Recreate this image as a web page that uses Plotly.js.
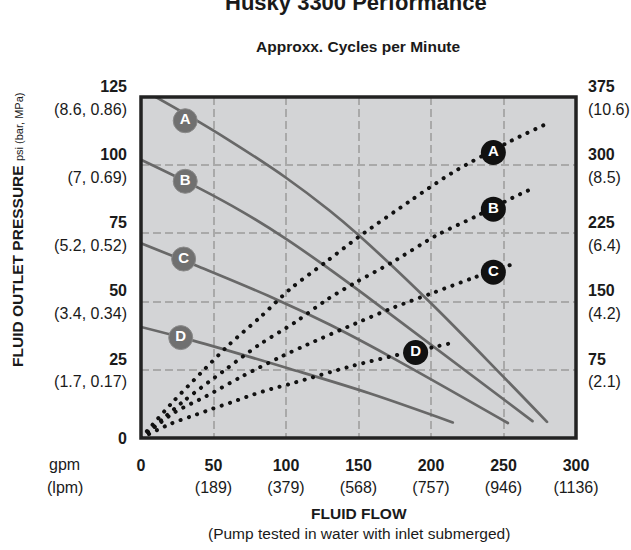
<!DOCTYPE html>
<html>
<head>
<meta charset="utf-8">
<script src="https://cdn.plot.ly/plotly-3.0.1.min.js"></script>
<style>
  html, body { margin: 0; padding: 0; background: #fff; }
  #chart { width: 631px; height: 550px; }
  /* round caps turn the short dashes of the air curves into dots */
  .scatterlayer .js-line { stroke-linecap: round !important; }
</style>
</head>
<body>
<div id="chart"></div>
<script>
// Fluid outlet pressure curves (psi) against fluid flow (gpm)
const pressFlowA = [0, 30, 60, 100, 130, 150, 200, 250, 280];
const pressA     = [128, 119, 109.4, 95.4, 83.4, 74.4, 49.4, 22.4, 5.9];
const pressFlowB = [0, 40, 70, 100, 130, 160, 270];
const pressB     = [102, 91.6, 82.9, 73, 61.9, 50.2, 6.2];
const pressFlowC = [0, 40, 90, 130, 170, 253];
const pressC     = [71.4, 62.8, 51.6, 41.6, 30.4, 5.5];
const pressFlowD = [0, 36, 103, 158, 215];
const pressD     = [40.7, 35.7, 25.3, 16.3, 5.7];

// Air consumption curves (right-hand scale) against fluid flow (gpm)
const airFlowA = [0, 21, 41, 61, 83, 103, 127, 150, 185, 215, 253, 279];
const airA     = [0, 38, 71, 103, 134, 164, 193, 221, 260, 292, 325, 345];
const airFlowB = [0, 29, 58, 81, 106, 129, 148, 173, 204, 230, 256, 268];
const airB     = [0, 40, 75, 102, 127, 153, 171, 193, 223, 243, 264, 273];
const airFlowC = [0, 23, 45, 70, 96, 115, 148, 175, 202, 229, 256];
const airC     = [0, 28, 46, 68, 89, 103, 126, 144, 160, 176, 191];
const airFlowD = [0, 21, 35, 49, 62, 76, 90, 104, 145, 180, 202, 216];
const airD     = [0, 16, 24, 32, 39, 47, 54, 60, 79, 92.5, 100, 105];

// Curve badges
const curveLetters   = ['A', 'B', 'C', 'D'];
const pressBadgeFlow = [30.5, 30.5, 29.4, 27.4];
const pressBadgePsi  = [116.3, 94.1, 65.6, 36.8];
const airBadgeFlow   = [243, 243, 243, 189.4];
const airBadgeValue  = [314, 251.6, 182.4, 94];

// Axis ticks
const flowTickVals  = [0, 50, 100, 150, 200, 250, 300];
const flowTickGpm   = ['0', '50', '100', '150', '200', '250', '300'];
const flowTickLpm   = ['', '(189)', '(379)', '(568)', '(757)', '(946)', '(1136)'];
const cycleTickVals = [50, 100, 150, 200, 250];
const cycleTickText = ['17.2', '34.5', '51.7', '69.0', '86.2'];
const psiTickVals   = [0, 25, 50, 75, 100, 125];
const psiTickText   = ['0', '25', '50', '75', '100', '125'];
const psiTickMetric = ['', '(1.7, 0.17)', '(3.4, 0.34)', '(5.2, 0.52)', '(7, 0.69)', '(8.6, 0.86)'];
const airTickVals   = [75, 150, 225, 300, 375];
const airTickText   = ['75', '150', '225', '300', '375'];
const airTickMetric = ['(2.1)', '(4.2)', '(6.4)', '(8.5)', '(10.6)'];

const FONT = '"Liberation Sans", Arial, Helvetica, sans-serif';
const INK = '#1a1a1a';
// Label lines are drawn at 16px while the 17.5px base font sets a roomier line pitch
const sized = s => '<span style="font-size:16px">' + s + '</span>';
const twoLine = (main, sub) => sized('<b>' + main + '</b>') + (sub ? '<br>' + sized(sub) : '');

const pressColor = '#686868';
const airColor = '#111111';

function pressTrace(x, y) {
  return { x: x, y: y, xaxis: 'x', yaxis: 'y', type: 'scatter', mode: 'lines',
    line: { color: pressColor, width: 2.7, shape: 'spline', smoothing: 1 }, hoverinfo: 'skip' };
}
function airTrace(x, y) {
  return { x: x, y: y, xaxis: 'x', yaxis: 'y2', type: 'scatter', mode: 'lines',
    line: { color: airColor, width: 4, dash: '0.1px,8.6px', shape: 'spline', smoothing: 0.8 }, hoverinfo: 'skip' };
}

const traces = [
  pressTrace(pressFlowA, pressA),
  pressTrace(pressFlowB, pressB),
  pressTrace(pressFlowC, pressC),
  pressTrace(pressFlowD, pressD),
  airTrace(airFlowA, airA),
  airTrace(airFlowB, airB),
  airTrace(airFlowC, airC),
  airTrace(airFlowD, airD),
  { x: pressBadgeFlow, y: pressBadgePsi, xaxis: 'x', yaxis: 'y', type: 'scatter', mode: 'markers+text',
    text: curveLetters, textposition: 'middle center', cliponaxis: false,
    textfont: { family: FONT, size: 15, color: '#ffffff', weight: 'bold' },
    marker: { size: 24, color: '#707070', line: { width: 1, color: '#8a8a8a' } }, hoverinfo: 'skip' },
  { x: airBadgeFlow, y: airBadgeValue, xaxis: 'x', yaxis: 'y2', type: 'scatter', mode: 'markers+text',
    text: curveLetters, textposition: 'middle center', cliponaxis: false,
    textfont: { family: FONT, size: 15, color: '#ffffff', weight: 'bold' },
    marker: { size: 25, color: '#111111', line: { width: 0 } }, hoverinfo: 'skip' }
];

const gridStyle = { showgrid: true, gridcolor: '#a9a9a9', gridwidth: 2, griddash: '8px,4px' };
const tickFont = { family: FONT, size: 17.5, color: INK };

function note(text, x, y, size, extra) {
  return Object.assign({ text: text, xref: 'paper', yref: 'paper', x: x, y: y,
    xanchor: 'center', yanchor: 'middle', showarrow: false,
    font: { family: FONT, size: size, color: INK } }, extra || {});
}

const layout = {
  width: 631, height: 550,
  margin: { l: 141, r: 55, t: 97, b: 112 },
  paper_bgcolor: '#ffffff',
  plot_bgcolor: '#d3d4d6',
  showlegend: false,
  font: { family: FONT, size: 16, color: INK },
  xaxis: Object.assign({
    range: [0, 300], tickmode: 'array', tickvals: flowTickVals,
    ticktext: flowTickGpm.map((g, i) => twoLine(g, flowTickLpm[i])),
    ticks: '', zeroline: false, showline: false, ticklabelstandoff: 14, tickfont: tickFont
  }, gridStyle),
  xaxis2: {
    overlaying: 'x', side: 'top', range: [0, 300], tickmode: 'array',
    tickvals: cycleTickVals, ticktext: cycleTickText,
    showgrid: false, zeroline: false, showline: false, ticks: '', ticklabelstandoff: 4,
    tickfont: { family: FONT, size: 16, color: INK }
  },
  yaxis: Object.assign({
    range: [0, 125], tickmode: 'array', tickvals: psiTickVals,
    ticktext: psiTickText.map((p, i) => twoLine(p, psiTickMetric[i])),
    ticks: '', zeroline: false, showline: false, ticklabelstandoff: 13, tickfont: tickFont
  }, gridStyle),
  yaxis2: {
    overlaying: 'y', side: 'right', range: [0, 375], tickmode: 'array',
    tickvals: airTickVals, ticktext: airTickText.map((a, i) => twoLine(a, airTickMetric[i])),
    showgrid: false, zeroline: false, showline: false, ticks: '', ticklabelstandoff: 11, tickfont: tickFont
  },
  shapes: [
    { type: 'rect', xref: 'paper', yref: 'paper', x0: 0, x1: 1, y0: 0, y1: 1,
      line: { color: '#222222', width: 3.5 }, fillcolor: 'rgba(0,0,0,0)', layer: 'above' }
  ],
  annotations: [
    note('<b>Husky 3300 Performance</b>', 0.495, 1.277, 22),
    note('<b>Approxx. Cycles per Minute</b>', 0.5, 1.147, 15.5),
    note('<b>FLUID FLOW</b>', 0.5, -0.22, 15.5),
    note('(Pump tested in water with inlet submerged)', 0.5, -0.279, 15.5),
    note('gpm', -0.175, -0.079, 16),
    note('(lpm)', -0.175, -0.146, 16),
    note('<b>FLUID OUTLET PRESSURE</b> <span style="font-size:11px">psi (bar, MPa)</span>',
      -0.283, 0.61, 15.5, { textangle: -90 })
  ]
};

Plotly.newPlot('chart', traces, layout, { staticPlot: true, displayModeBar: false });
</script>
</body>
</html>
